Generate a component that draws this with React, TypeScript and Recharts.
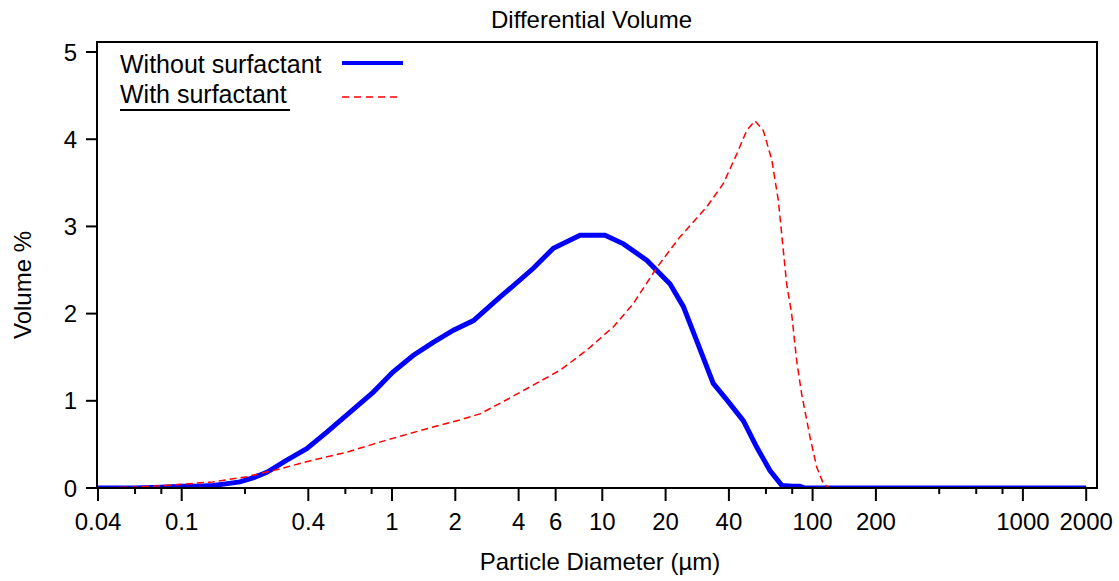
import { Label, Legend, Line, LineChart, ReferenceArea, XAxis, YAxis } from "recharts";

const FONT = '"Liberation Sans", Arial, sans-serif';

// particle diameter (µm) / differential volume (%)
const withoutSizes = [
  0.04, 0.06, 0.08, 0.1, 0.12, 0.141, 0.165, 0.189, 0.22, 0.254, 0.316, 0.393, 0.49, 0.632, 0.815, 1.01, 1.26,
  1.57, 1.96, 2.44, 3.26, 3.78, 4.7, 5.85, 7.84, 10.3, 12.6, 16.3, 21, 24.3, 28.1, 33.7, 39.1, 46.9, 54.2, 62.7,
  71.3, 80, 87, 92, 200, 500, 1000, 2000,
];
const withoutVolume = [
  0, 0, 0.01, 0.02, 0.02, 0.03, 0.05, 0.07, 0.12, 0.18, 0.32, 0.45, 0.64, 0.87, 1.1, 1.33, 1.52, 1.67, 1.81,
  1.92, 2.19, 2.32, 2.52, 2.75, 2.9, 2.9, 2.8, 2.61, 2.34, 2.08, 1.69, 1.2, 1.01, 0.77, 0.47, 0.2, 0.03, 0.02,
  0.02, 0, 0, 0, 0, 0,
];

const withSizes = [
  0.04, 0.06, 0.085, 0.141, 0.204, 0.293, 0.422, 0.609, 0.944, 1.57, 2.1, 2.62, 3.26, 4.53, 6.29, 8.43, 11.3,
  14, 18.2, 23.4, 31.3, 37.6, 43.6, 48.6, 53.2, 58.3, 64, 68.7, 75.3, 79.5, 84, 88.7, 97.2, 104.6, 112.5, 120,
  200, 500, 1000, 2000,
];
const withVolume = [
  0, 0.01, 0.03, 0.07, 0.13, 0.22, 0.32, 0.41, 0.55, 0.7, 0.78, 0.85, 0.97, 1.16, 1.35, 1.58, 1.85, 2.11, 2.53,
  2.88, 3.22, 3.49, 3.83, 4.1, 4.21, 4.1, 3.76, 3.3, 2.34, 2.0, 1.46, 1.08, 0.585, 0.24, 0.05, 0, 0, 0, 0, 0,
];

const seriesNames = ["Without surfactant", "With surfactant"];
const diamTicks = [0.04, 0.06, 0.08, 0.1, 0.2, 0.4, 0.6, 0.8, 1, 2, 4, 6, 10, 20, 40, 60, 80, 100, 200, 400, 600, 800, 1000, 2000];
const labelledTicks = [0.04, 0.1, 0.4, 1, 2, 4, 6, 10, 20, 40, 100, 200, 1000, 2000];
const volumeTicks = [0, 1, 2, 3, 4, 5];

const X_DOMAIN: [number, number] = [0.03956, 2251];
const Y_DOMAIN: [number, number] = [0, 5.115];

const withoutData = withoutSizes.map((d, i) => ({ d, v: withoutVolume[i] }));
const withData = withSizes.map((d, i) => ({ d, v: withVolume[i] }));

function DiamTick(props: any) {
  const { x, y, payload } = props;
  const major = labelledTicks.includes(payload.value);
  return (
    <g>
      <line x1={x} y1={y} x2={x} y2={y + (major ? 13 : 6)} stroke="#000" strokeWidth={2} />
      {major && (
        <text x={x} y={y + 42} textAnchor="middle" fontSize={24} fontFamily={FONT} fill="#000">
          {payload.value}
        </text>
      )}
    </g>
  );
}

function LegendBox(props: any) {
  const items = [...(props.payload || [])].sort(
    (a: any, b: any) => seriesNames.indexOf(a.value) - seriesNames.indexOf(b.value)
  );
  return (
    <svg width={320} height={80} style={{ display: "block" }}>
      {items.map((it: any, i: number) => {
        const base = i === 0 ? 31 : 61;
        const mid = i === 0 ? 21 : 55;
        const dashed = i === 1;
        return (
          <g key={it.value}>
            <text x={10} y={base} fontSize={25} fontFamily={FONT} fill="#000">
              {it.value}
            </text>
            <line
              x1={232}
              x2={dashed ? 289 : 293}
              y1={mid}
              y2={mid}
              stroke={it.color}
              strokeWidth={dashed ? 1.5 : 4}
              strokeDasharray={dashed ? "7 5" : undefined}
            />
          </g>
        );
      })}
      <line x1={10} x2={180} y1={68} y2={68} stroke="#000" strokeWidth={2} />
    </svg>
  );
}

export default function App() {
  return (
    <div style={{ position: "relative", width: 1119, height: 581, background: "#fff", fontFamily: FONT }}>
      <style>{"body{margin:0}"}</style>
      <div
        style={{
          position: "absolute",
          left: 0,
          top: 8,
          width: 1183,
          textAlign: "center",
          fontSize: 24,
          lineHeight: "24px",
          color: "#000",
        }}
      >
        Differential Volume
      </div>
      <LineChart width={1119} height={581} margin={{ top: 42, right: 22, left: 0, bottom: 0 }}>
        <XAxis
          dataKey="d"
          type="number"
          scale="log"
          domain={X_DOMAIN}
          allowDataOverflow
          ticks={diamTicks}
          interval={0}
          tick={<DiamTick />}
          tickLine={false}
          tickSize={0}
          tickMargin={0}
          axisLine={{ stroke: "#000", strokeWidth: 2 }}
          height={93}
        >
          <Label
            content={(p: any) => {
              const vb = p.viewBox;
              return (
                <text x={vb.x + vb.width / 2 + 3} y={570} textAnchor="middle" fontSize={24} fontFamily={FONT} fill="#000">
                  Particle Diameter (µm)
                </text>
              );
            }}
          />
        </XAxis>
        <YAxis
          dataKey="v"
          type="number"
          domain={Y_DOMAIN}
          allowDataOverflow
          ticks={volumeTicks}
          interval={0}
          width={97}
          tickSize={11}
          tickMargin={9}
          tick={{ fontSize: 24, fill: "#000", fontFamily: FONT }}
          tickLine={{ stroke: "#000", strokeWidth: 2 }}
          axisLine={{ stroke: "#000", strokeWidth: 2 }}
        >
          <Label
            content={(p: any) => {
              const vb = p.viewBox;
              const cy = vb.y + vb.height / 2 + 20;
              return (
                <text
                  x={31}
                  y={cy}
                  transform={`rotate(-90, 31, ${cy})`}
                  textAnchor="middle"
                  fontSize={24}
                  fontFamily={FONT}
                  fill="#000"
                >
                  Volume %
                </text>
              );
            }}
          />
        </YAxis>
        <ReferenceArea
          x1={X_DOMAIN[0]}
          x2={X_DOMAIN[1]}
          y1={Y_DOMAIN[0]}
          y2={Y_DOMAIN[1]}
          fill="none"
          stroke="#000"
          strokeWidth={2}
          ifOverflow="visible"
        />
        <Legend
          layout="vertical"
          align="center"
          verticalAlign="middle"
          content={<LegendBox />}
          wrapperStyle={{ position: "absolute", top: 42, left: 110, width: 320, height: 80 }}
        />
        <Line
          data={withoutData}
          dataKey="v"
          name={seriesNames[0]}
          type="linear"
          stroke="#0000ff"
          strokeWidth={5}
          dot={false}
          isAnimationActive={false}
        />
        <Line
          data={withData}
          dataKey="v"
          name={seriesNames[1]}
          type="linear"
          stroke="#ff0000"
          strokeWidth={1.5}
          strokeDasharray="7 4"
          dot={false}
          isAnimationActive={false}
        />
      </LineChart>
    </div>
  );
}
